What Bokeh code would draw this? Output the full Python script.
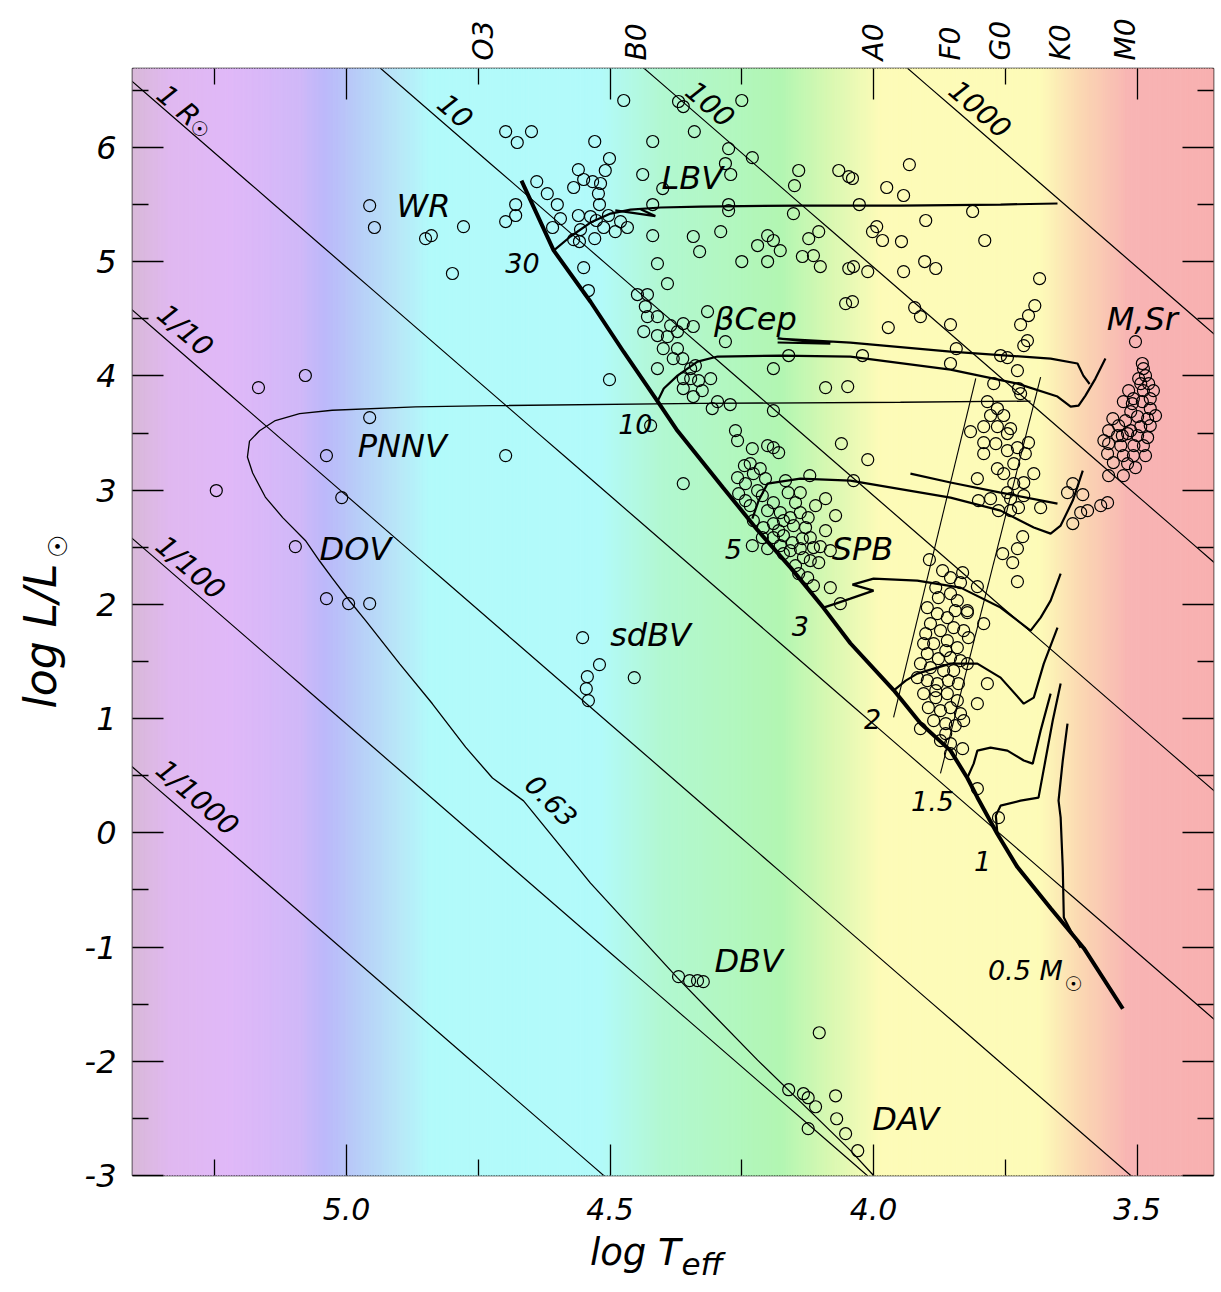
import math
import numpy as np
from bokeh.plotting import figure
from bokeh.models import Range1d, LinearAxis, FixedTicker
from bokeh.core.properties import value
from bokeh.embed import file_html
from bokeh.resources import INLINE

FONT = "DejaVu Sans"
NB = "\u00a0"

# ------------------------------------------------------------------ data
x_major = [5.0, 4.5, 4.0, 3.5]
x_minor = [5.25, 4.75, 4.25, 3.75]
x_tick_text = ["5.0", "4.5", "4.0", "3.5"]
y_major = [-3, -2, -1, 0, 1, 2, 3, 4, 5, 6]
y_minor = [-2.5, -1.5, -0.5, 0.5, 1.5, 2.5, 3.5, 4.5, 5.5, 6.5]

spec_types = ["O3", "B0", "A0", "F0", "G0", "K0", "M0"]
spec_T = [4.740, 4.450, 4.000, 3.854, 3.759, 3.645, 3.522]

# axis titles: text and where along the axis each part sits
xtitle_main, xtitle_main_T = "log T", 4.452
xtitle_sub, xtitle_sub_T = "eff", 4.325
ytitle_main = "log L/L"
ytitle_sub, ytitle_sub_L = "☉", 2.611

log_Tsun = 3.762
radius_values = [0.001, 0.01, 0.1, 1, 10, 100, 1000]
radius_text = ["1/1000", "1/100", "1/10", "1 R", "10", "100", "1000"]
radius_label_T = [5.283, 5.296, 5.306, 5.319, 4.793, 4.309, 3.797]
radius_label_L = [0.308, 2.322, 4.398, 6.368, 6.324, 6.385, 6.341]

# zero-age main sequence
zams_T = [4.668, 4.607, 4.537, 4.474, 4.410, 4.372, 4.285, 4.220, 4.157, 4.095, 4.044,
          3.962, 3.911, 3.854, 3.822, 3.803, 3.765, 3.727, 3.664, 3.601, 3.527]
zams_L = [5.71, 5.10, 4.65, 4.21, 3.78, 3.52, 3.02, 2.65, 2.32, 1.97, 1.66,
          1.25, 0.96, 0.72, 0.48, 0.31, -0.01, -0.30, -0.66, -1.01, -1.54]

# evolutionary tracks
trk30_T = [4.607, 4.575, 4.537, 4.499, 4.461, 4.404, 4.328, 4.139, 3.949, 3.759, 3.651]
trk30_L = [5.098, 5.221, 5.343, 5.422, 5.457, 5.475, 5.483, 5.492, 5.492, 5.501, 5.510]
trk30b_T = [4.490, 4.414, 4.442]
trk30b_L = [5.45, 5.40, 5.46]
trk12_T = [4.410, 4.398, 4.372, 4.334, 4.296, 4.176, 4.044, 3.854, 3.727, 3.651, 3.626, 3.611, 3.598, 3.579, 3.560]
trk12_L = [3.776, 3.890, 4.003, 4.126, 4.170, 4.179, 4.170, 4.056, 3.933, 3.820, 3.732, 3.741, 3.828, 3.977, 4.152]
trk12b_T = [4.182, 4.082, 4.182, 4.044, 3.854, 3.664, 3.613, 3.602, 3.590]
trk12b_L = [4.293, 4.284, 4.328, 4.292, 4.214, 4.152, 4.109, 4.003, 3.930]
trk5_T = [4.230, 4.218, 4.201, 4.139, 4.044, 3.854, 3.759, 3.696, 3.664, 3.645, 3.622, 3.603]
trk5_L = [2.751, 2.909, 3.058, 3.102, 3.084, 2.935, 2.821, 2.673, 2.620, 2.690, 2.909, 3.172]
trk5b_T = [3.930, 3.854, 3.759, 3.651]
trk5b_L = [3.145, 3.067, 2.979, 2.883]
trk3_T = [4.095, 4.072, 4.044, 4.000, 4.040, 4.000, 3.917, 3.835, 3.759, 3.702, 3.683, 3.664, 3.645]
trk3_L = [1.972, 2.007, 2.051, 2.121, 2.173, 2.226, 2.208, 2.147, 1.972, 1.771, 1.884, 2.033, 2.270]
trk2_T = [3.962, 3.939, 3.917, 3.854, 3.803, 3.759, 3.715, 3.696, 3.677, 3.651]
trk2_L = [1.245, 1.333, 1.394, 1.482, 1.482, 1.359, 1.131, 1.184, 1.482, 1.797]
trk15_T = [3.822, 3.810, 3.803, 3.778, 3.746, 3.715, 3.698, 3.683, 3.664]
trk15_L = [0.483, 0.606, 0.720, 0.746, 0.720, 0.633, 0.606, 0.895, 1.219]
trk1_T = [3.765, 3.768, 3.759, 3.721, 3.687, 3.674, 3.660, 3.645]
trk1_L = [-0.007, 0.151, 0.238, 0.282, 0.308, 0.633, 0.983, 1.307]
trk08_T = [3.607, 3.626, 3.639, 3.641, 3.645, 3.649, 3.641, 3.632]
trk08_L = [-1.005, -0.856, -0.742, -0.305, 0.133, 0.282, 0.633, 0.956]

# post-AGB / white dwarf track (0.63 Msun)
pn_T = [3.702, 3.949, 4.328, 4.723, 4.869, 5.027, 5.089, 5.135, 5.165, 5.184, 5.188, 5.178,
        5.154, 5.121, 5.078, 5.051, 5.027, 4.994, 4.964, 4.899, 4.837, 4.774, 4.723, 4.664,
        4.537, 4.372, 4.220, 4.044, 4.000]
pn_L = [3.78, 3.77, 3.76, 3.74, 3.73, 3.70, 3.67, 3.61, 3.52, 3.43, 3.29, 3.15,
        2.94, 2.76, 2.56, 2.38, 2.23, 2.03, 1.86, 1.48, 1.13, 0.75, 0.48, 0.28,
        -0.44, -1.27, -1.99, -2.78, -3.00]

# classical instability strip edges
blue_edge_T = [3.806, 3.962]
blue_edge_L = [3.98, 1.01]
red_edge_T = [3.683, 3.873]
red_edge_L = [3.99, 0.52]

# pulsating stars (log Teff, log L)
wr_stars = [(4.956, 5.492), (4.947, 5.300), (4.850, 5.203), (4.839, 5.229), (4.778, 5.308), (4.799, 4.897)]
pnnv_dov = [(5.167, 3.898), (5.078, 4.004), (4.956, 3.636), (5.038, 3.303), (5.247, 2.997),
            (5.009, 2.935), (5.097, 2.506), (5.038, 2.051), (4.996, 2.007), (4.956, 2.007), (4.698, 3.303)]
hot_supergiants = [
    (4.474, 6.412), (4.370, 6.403), (4.361, 6.359), (4.250, 6.412), (4.698, 6.140), (4.676, 6.044),
    (4.649, 6.140), (4.529, 6.053), (4.419, 6.053), (4.340, 6.140), (4.501, 5.904), (4.275, 5.991),
    (4.230, 5.912), (4.560, 5.807), (4.509, 5.799), (4.639, 5.702), (4.550, 5.720), (4.533, 5.702),
    (4.518, 5.685), (4.438, 5.764), (4.281, 5.860), (4.271, 5.764), (4.569, 5.650), (4.522, 5.597),
    (4.619, 5.597), (4.679, 5.501), (4.600, 5.501), (4.520, 5.501), (4.400, 5.641), (4.150, 5.667),
    (4.142, 5.799), (4.066, 5.799), (4.047, 5.746), (4.698, 5.352), (4.679, 5.405), (4.594, 5.378),
    (4.560, 5.405), (4.537, 5.396), (4.526, 5.361), (4.503, 5.405), (4.609, 5.300), (4.556, 5.282),
    (4.512, 5.300), (4.490, 5.264), (4.467, 5.300), (4.480, 5.352), (4.419, 5.501), (4.275, 5.501),
    (4.275, 5.448), (4.152, 5.422), (4.569, 5.194), (4.529, 5.203), (4.558, 5.177), (4.419, 5.229),
    (4.342, 5.221), (4.290, 5.264), (4.330, 5.089), (4.220, 5.142), (4.201, 5.229), (4.190, 5.186),
    (4.177, 5.098), (4.250, 5.002), (4.201, 5.002), (4.123, 5.203), (4.104, 5.264), (4.135, 5.046),
    (4.114, 5.054), (4.101, 4.958), (4.047, 4.941), (4.550, 4.949), (4.410, 4.984), (4.391, 4.809),
    (4.541, 4.748), (4.448, 4.713), (4.429, 4.713)]
cool_supergiants = [
    (3.932, 5.851), (4.040, 5.729), (3.975, 5.650), (3.943, 5.580), (4.027, 5.501), (3.812, 5.440),
    (3.901, 5.361), (3.994, 5.308), (4.002, 5.264), (3.983, 5.186), (3.947, 5.177), (3.789, 5.186),
    (4.038, 4.958), (4.011, 4.914), (3.943, 4.914), (3.903, 5.002), (3.882, 4.941), (3.685, 4.853),
    (4.040, 4.651), (3.922, 4.599), (3.911, 4.520), (3.694, 4.616), (3.706, 4.529), (3.721, 4.450),
    (3.854, 4.450), (3.972, 4.424), (3.708, 4.310), (3.715, 4.266), (3.843, 4.240), (4.021, 4.179),
    (3.759, 4.179), (3.746, 4.161), (3.854, 4.109), (3.727, 4.047), (3.772, 3.933), (3.725, 3.890),
    (3.721, 3.846), (4.053, 4.634)]
beta_cep = [
    (4.433, 4.608), (4.315, 4.564), (4.429, 4.520), (4.410, 4.520), (4.361, 4.459), (4.342, 4.433),
    (4.436, 4.389), (4.410, 4.354), (4.385, 4.441), (4.391, 4.345), (4.372, 4.389), (4.399, 4.240),
    (4.372, 4.240), (4.281, 4.301), (4.380, 4.152), (4.362, 4.152), (4.161, 4.179), (4.190, 4.065),
    (4.410, 4.065), (4.347, 4.065), (4.338, 4.091), (4.361, 3.977), (4.347, 3.977), (4.332, 3.960),
    (4.309, 3.977), (4.361, 3.890), (4.325, 3.872), (4.342, 3.820), (4.296, 3.776), (4.272, 3.750),
    (4.306, 3.715), (4.190, 3.697), (4.501, 3.968), (4.091, 3.898), (4.049, 3.907), (4.262, 3.522),
    (4.258, 3.434), (4.423, 3.566), (4.361, 3.058), (4.011, 3.268), (4.038, 3.084), (4.061, 3.408)]
spb = [
    (4.230, 3.364), (4.201, 3.390), (4.190, 3.373), (4.180, 3.329), (4.258, 3.110), (4.234, 3.233),
    (4.215, 3.189), (4.243, 3.058), (4.228, 3.145), (4.256, 2.970), (4.220, 2.996), (4.211, 2.953),
    (4.190, 2.891), (4.162, 2.979), (4.148, 2.891), (4.121, 3.128), (4.091, 2.926), (4.072, 2.778),
    (4.234, 2.865), (4.201, 2.821), (4.177, 2.804), (4.158, 2.760), (4.139, 2.804), (4.124, 2.760),
    (4.228, 2.734), (4.209, 2.673), (4.190, 2.708), (4.171, 2.734), (4.152, 2.690), (4.129, 2.673),
    (4.120, 2.585), (4.211, 2.585), (4.190, 2.585), (4.171, 2.603), (4.154, 2.541), (4.135, 2.576),
    (4.114, 2.498), (4.101, 2.506), (4.230, 2.515), (4.201, 2.489), (4.177, 2.515), (4.171, 2.445),
    (4.158, 2.471), (4.139, 2.489), (4.133, 2.410), (4.104, 2.366), (4.142, 2.270), (4.125, 2.235),
    (4.114, 2.165), (4.082, 2.147), (4.063, 2.007), (4.243, 2.909), (4.245, 3.215), (4.205, 3.102),
    (4.167, 3.084), (4.139, 2.979), (4.110, 2.865), (4.180, 2.646), (4.091, 2.646), (4.120, 2.384),
    (4.148, 2.340), (4.082, 2.471)]
cepheids = [
    (3.784, 3.776), (3.765, 3.715), (3.778, 3.654), (3.753, 3.654), (3.791, 3.557), (3.765, 3.557),
    (3.740, 3.539), (3.816, 3.513), (3.791, 3.417), (3.768, 3.408), (3.746, 3.496), (3.727, 3.373),
    (3.706, 3.417), (3.791, 3.320), (3.746, 3.347), (3.712, 3.320), (3.734, 3.233), (3.765, 3.189),
    (3.753, 3.145), (3.696, 3.145), (3.715, 3.067), (3.803, 3.102), (3.734, 3.058), (3.778, 2.926),
    (3.740, 2.926), (3.801, 2.909), (3.715, 2.953), (3.725, 2.847), (3.763, 2.821), (3.740, 2.821),
    (3.683, 2.847), (3.746, 2.979), (3.717, 2.594), (3.727, 2.489), (3.755, 2.445), (3.736, 2.366),
    (3.727, 2.200)]
cool_giants = [(3.622, 3.058), (3.632, 2.979), (3.603, 2.961), (3.594, 2.821), (3.607, 2.804),
               (3.569, 2.865), (3.556, 2.891), (3.622, 2.708)]
delta_sct = [
    (3.894, 2.392), (3.869, 2.296), (3.854, 2.235), (3.831, 2.278), (3.835, 2.191), (3.803, 2.156),
    (3.877, 2.060), (3.854, 2.094), (3.841, 2.033), (3.822, 1.945), (3.898, 1.972), (3.879, 1.919),
    (3.860, 1.884), (3.892, 1.832), (3.873, 1.771), (3.848, 1.797), (3.829, 1.771), (3.820, 1.709),
    (3.905, 1.657), (3.886, 1.657), (3.860, 1.683), (3.841, 1.622), (3.898, 1.569), (3.877, 1.525),
    (3.854, 1.534), (3.835, 1.508), (3.822, 1.482), (3.911, 1.482), (3.892, 1.447), (3.867, 1.420),
    (3.848, 1.420), (3.917, 1.359), (3.898, 1.333), (3.879, 1.306), (3.858, 1.333), (3.839, 1.306),
    (3.905, 1.219), (3.882, 1.184), (3.860, 1.219), (3.841, 1.158), (3.896, 1.096), (3.873, 1.070),
    (3.854, 1.096), (3.835, 1.044), (3.886, 0.982), (3.863, 0.956), (3.829, 0.982), (3.911, 0.912),
    (3.863, 0.869), (3.854, 0.781), (3.831, 0.737), (3.854, 0.693), (3.784, 1.306), (3.803, 1.131),
    (3.791, 1.832), (3.822, 1.928), (3.882, 2.147), (3.845, 1.945), (3.901, 1.744), (3.863, 1.596),
    (3.882, 1.245), (3.845, 0.939), (3.873, 0.807), (3.803, 0.387), (3.763, 0.133)]
m_sr = [
    (3.503, 4.301), (3.490, 4.109), (3.488, 4.065), (3.497, 3.977), (3.478, 3.933), (3.488, 3.872),
    (3.469, 3.872), (3.507, 3.802), (3.526, 3.776), (3.490, 3.776), (3.475, 3.715), (3.512, 3.688),
    (3.499, 3.645), (3.480, 3.627), (3.522, 3.609), (3.493, 3.557), (3.554, 3.522), (3.512, 3.522),
    (3.475, 3.566), (3.528, 3.478), (3.499, 3.478), (3.537, 3.478), (3.518, 3.496), (3.480, 3.461),
    (3.554, 3.408), (3.531, 3.390), (3.506, 3.390), (3.488, 3.390), (3.556, 3.320), (3.526, 3.303),
    (3.507, 3.303), (3.484, 3.303), (3.545, 3.242), (3.518, 3.233), (3.503, 3.198), (3.554, 3.128),
    (3.526, 3.128), (3.475, 3.802), (3.516, 3.872), (3.484, 4.003), (3.465, 3.653), (3.535, 3.566),
    (3.563, 3.434), (3.546, 3.627), (3.509, 3.758), (3.493, 3.933)]
sdbv = [(4.552, 1.709), (4.520, 1.473), (4.543, 1.368), (4.545, 1.263), (4.541, 1.158), (4.454, 1.359)]
dbv = [(4.370, -1.259), (4.349, -1.294), (4.334, -1.294), (4.323, -1.303)]
dav = [(4.103, -1.750), (4.161, -2.249), (4.133, -2.284), (4.124, -2.319), (4.110, -2.398),
       (4.072, -2.302), (4.070, -2.503), (4.124, -2.590), (4.053, -2.634), (4.030, -2.783)]

class_text = ["WR", "LBV", "βCep", "M,Sr", "PNNV", "DOV", "SPB", "sdBV", "DBV", "DAV"]
class_T = [4.854, 4.344, 4.224, 3.490, 4.894, 4.983, 4.021, 4.423, 4.237, 3.939]
class_L = [5.492, 5.729, 4.502, 4.502, 3.390, 2.489, 2.489, 1.735, -1.119, -2.503]

mass_text = ["30", "10", "5", "3", "2", "1.5", "1", "0.5 M"]
mass_T = [4.666, 4.452, 4.266, 4.139, 4.002, 3.888, 3.793, 3.712]
mass_L = [4.993, 3.583, 2.489, 1.814, 1.000, 0.282, -0.244, -1.207]
sun_sym_T = [5.279, 3.621]
sun_sym_L = [6.158, -1.320]
wd_mass_text = ["0.63"]
wd_mass_T = [4.611]
wd_mass_L = [0.282]

# background colour stops (log Teff, colour)
bg_T = [5.406, 5.334, 5.220, 5.087, 5.040, 4.992, 4.898, 4.841, 4.518, 4.404, 4.176, 4.082,
        3.987, 3.683, 3.607, 3.512, 3.355]
bg_col = ["#d8b8d8", "#e0b8f0", "#e0b8f8", "#d0b8f8", "#bcb8fa", "#b8c8f8", "#b8e8f8", "#b2fafa",
          "#b2fafa", "#b2f8d2", "#b2f6b2", "#d8f8b2", "#fdfbb8", "#fdfbb8", "#fbd8b2", "#f8b4b4",
          "#f8b0b0"]

# ------------------------------------------------------------------ figure
X0, X1 = 5.406, 3.355
Y0, Y1 = -3.0, 6.692
p = figure(width=1221, height=1290, x_range=Range1d(X0, X1), y_range=Range1d(Y0, Y1),
           output_backend="svg", toolbar_location=None,
           min_border_left=132, min_border_right=8, min_border_top=68, min_border_bottom=115)
p.grid.visible = False
p.outline_line_color = "black"
p.outline_line_width = 1.5
p.background_fill_color = "white"

# gradient background
def _rgb(h):
    return [int(h[i:i + 2], 16) for i in (1, 3, 5)]
edges = np.linspace(X0, X1, 421)
mids = 0.5 * (edges[:-1] + edges[1:])
order = np.argsort(bg_T)
Ts = np.array(bg_T)[order]
rgb = np.array([_rgb(c) for c in bg_col])[order]
cols = []
for m in mids:
    c = [int(round(np.interp(m, Ts, rgb[:, k]))) for k in range(3)]
    cols.append("#%02x%02x%02x" % tuple(c))
p.quad(left=edges[:-1], right=edges[1:], bottom=Y0 - 1, top=Y1 + 1,
       fill_color=cols, line_color=cols, line_width=1)

# radius lines
tgrid = np.linspace(X0 + 0.1, X1 - 0.1, 50)
for R in radius_values:
    p.line(tgrid, 2 * math.log10(R) + 4 * (tgrid - log_Tsun), line_color="black", line_width=1.2)

# instability strip
p.line(blue_edge_T, blue_edge_L, line_color="black", line_width=1.1)
p.line(red_edge_T, red_edge_L, line_color="black", line_width=1.1)

# PN / WD track
p.line(pn_T, pn_L, line_color="black", line_width=1.3)

# evolutionary tracks
for tt, ll in [(trk30_T, trk30_L), (trk30b_T, trk30b_L), (trk12_T, trk12_L), (trk12b_T, trk12b_L),
               (trk5_T, trk5_L), (trk5b_T, trk5b_L), (trk3_T, trk3_L), (trk2_T, trk2_L),
               (trk15_T, trk15_L), (trk1_T, trk1_L), (trk08_T, trk08_L)]:
    p.line(tt, ll, line_color="black", line_width=2.2)

p.line(zams_T, zams_L, line_color="black", line_width=4)

# stars
for grp in [wr_stars, pnnv_dov, hot_supergiants, cool_supergiants, beta_cep, spb, cepheids,
            cool_giants, delta_sct, m_sr, sdbv, dbv, dav]:
    p.scatter([a for a, b in grp], [b for a, b in grp], marker="circle", size=12,
              fill_color=None, line_color="black", line_width=1.2)

# text in the plot
ang = -math.atan(4 * (1107 / (Y1 - Y0)) / (1081 / (X0 - X1)))
p.text(radius_label_T, radius_label_L, text=radius_text, angle=ang,
       text_font=value(FONT), text_font_style="italic", text_font_size="28px",
       text_align="center", text_baseline="middle")
p.text(class_T, class_L, text=class_text, text_font=value(FONT), text_font_style="italic",
       text_font_size="32px", text_align="center", text_baseline="middle")
p.text(mass_T, mass_L, text=mass_text, text_font=value(FONT), text_font_style="italic",
       text_font_size="27px", text_align="center", text_baseline="middle")
p.text(wd_mass_T, wd_mass_L, text=wd_mass_text, angle=-0.78, text_font=value(FONT),
       text_font_style="italic", text_font_size="27px", text_align="center", text_baseline="middle")
p.text(sun_sym_T, sun_sym_L, text=["☉", "☉"], text_font=value(FONT),
       text_font_size="20px", text_align="center", text_baseline="middle")

# axes
def style(ax, labels=True, size="30px", standoff=20):
    ax.axis_line_color = None
    ax.major_tick_in = 31
    ax.major_tick_out = 0
    ax.minor_tick_in = 16
    ax.minor_tick_out = 0
    ax.major_tick_line_color = "black"
    ax.minor_tick_line_color = "black"
    ax.major_tick_line_width = 1.3
    ax.minor_tick_line_width = 1.3
    if labels:
        ax.major_label_text_font = FONT
        ax.major_label_text_font_style = "italic"
        ax.major_label_text_font_size = size
        ax.major_label_standoff = standoff
        ax.major_label_text_color = "black"
    else:
        ax.major_label_text_font_size = "0px"
        ax.major_label_standoff = 0


def text_axis(ticks, texts, size, standoff, orient=None, italic=True):
    ax = LinearAxis(ticker=FixedTicker(ticks=ticks, minor_ticks=[]),
                    major_label_overrides=dict(zip(ticks, texts)))
    ax.axis_line_color = None
    ax.major_tick_line_color = None
    ax.minor_tick_line_color = None
    ax.major_tick_in = 0
    ax.major_tick_out = 0
    ax.minor_tick_in = 0
    ax.minor_tick_out = 0
    ax.major_label_text_font = FONT
    ax.major_label_text_font_style = "italic" if italic else "normal"
    ax.major_label_text_font_size = size
    ax.major_label_text_color = "black"
    ax.major_label_standoff = standoff
    if orient is not None:
        ax.major_label_orientation = orient
    return ax


p.xaxis.ticker = FixedTicker(ticks=x_major, minor_ticks=x_minor)
p.yaxis.ticker = FixedTicker(ticks=y_major, minor_ticks=y_minor)
p.xaxis.major_label_overrides = {t: s for t, s in zip(x_major, x_tick_text)}
p.yaxis.major_label_overrides = {t: str(t) for t in y_major}
style(p.xaxis[0], True, "30px", 22)
style(p.yaxis[0], True, "32px", 16)

ya = p.yaxis[0]
ya.axis_label = ytitle_main + NB * 2
ya.axis_label_text_font = FONT
ya.axis_label_text_font_style = "italic"
ya.axis_label_text_font_size = "44px"
ya.axis_label_text_color = "black"
ya.axis_label_standoff = 16

# axis titles' remaining parts, as text rows beside the axes
p.add_layout(text_axis([xtitle_main_T], [xtitle_main], "37px", 8), "below")
p.add_layout(text_axis([xtitle_sub_T], [xtitle_sub], "31px", -31), "below")
p.add_layout(text_axis([ytitle_sub_L], [ytitle_sub], "26px", -47, math.pi / 2, italic=False), "left")

# mirrored ticks (top, right)
top = LinearAxis(ticker=FixedTicker(ticks=x_major, minor_ticks=x_minor),
                 major_label_overrides={t: "" for t in x_major})
style(top, False)
p.add_layout(top, "above")
right = LinearAxis(ticker=FixedTicker(ticks=y_major, minor_ticks=y_minor),
                   major_label_overrides={t: "" for t in y_major})
style(right, False)
p.add_layout(right, "right")

# spectral types along the top
spec = text_axis(spec_T, spec_types, "28px", 8, math.pi / 2)
p.add_layout(spec, "above")

open("out.html", "w").write(file_html(p, INLINE))
